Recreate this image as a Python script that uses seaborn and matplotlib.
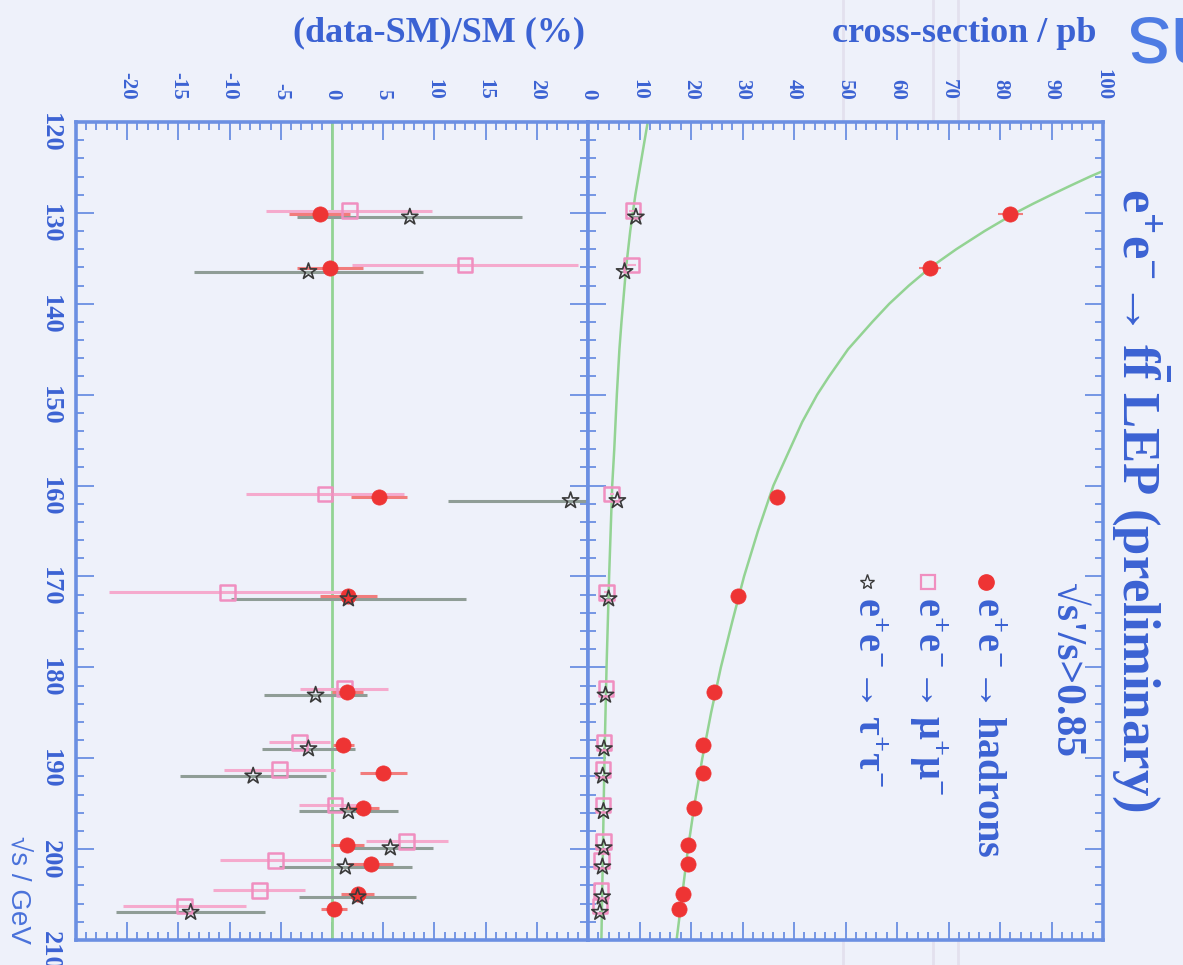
import numpy as np
import pandas as pd
import matplotlib
matplotlib.use("Agg")
import matplotlib.pyplot as plt
import seaborn as sns
from matplotlib.ticker import MultipleLocator, FixedLocator, FuncFormatter
from matplotlib.lines import Line2D

# ---- LEP2 energy points (GeV) ----
energy = [130.1, 136.1, 161.3, 172.1, 182.7, 188.6, 191.6, 195.5, 199.5, 201.6, 204.9, 206.6]

# ---- measured cross-sections (pb) ----
sig_had = [82.0, 66.4, 36.7, 29.1, 24.5, 22.3, 22.3, 20.6, 19.5, 19.4, 18.4, 17.6]
sig_had_err = [2.4, 2.1, 1.0, 0.8, 0.35, 0.2, 0.4, 0.3, 0.3, 0.4, 0.4, 0.3]
sig_mumu = [8.7, 8.4, 4.6, 3.6, 3.5, 3.1, 2.95, 2.95, 3.05, 2.65, 2.55, 2.3]
sig_mumu_err = [0.7, 0.9, 0.4, 0.45, 0.18, 0.1, 0.16, 0.12, 0.15, 0.14, 0.12, 0.14]
sig_tautau = [9.3, 7.1, 5.7, 4.0, 3.4, 3.1, 2.85, 3.0, 3.05, 2.8, 2.75, 2.3]
sig_tautau_err = [1.0, 0.8, 0.6, 0.45, 0.18, 0.14, 0.2, 0.15, 0.13, 0.18, 0.16, 0.17]

# ---- relative deviation from SM (%) ----
dev_had = [-1.2, -0.2, 4.6, 1.6, 1.5, 1.1, 5.0, 3.0, 1.5, 3.8, 2.5, 0.2]
dev_had_err = [3.0, 3.2, 2.7, 2.8, 1.5, 1.0, 2.3, 1.6, 1.6, 2.2, 1.6, 1.3]
dev_mumu = [1.7, 13.0, -0.7, -10.2, 1.2, -3.2, -5.1, 0.3, 7.3, -5.5, -7.1, -14.4]
dev_mumu_err = [8.1, 11.0, 7.7, 11.6, 4.3, 3.0, 5.4, 3.5, 4.0, 5.4, 4.5, 6.0]
dev_tautau = [7.6, -2.3, 23.3, 1.6, -1.6, -2.3, -7.7, 1.6, 5.7, 1.3, 2.5, -13.8]
dev_tautau_err = [11.0, 11.2, 12.0, 11.5, 5.0, 4.5, 7.1, 4.8, 4.2, 6.5, 5.7, 7.3]

# ---- Standard Model predictions (pb) ----
sm_energy = [120, 122, 124, 125, 126, 127, 128, 129, 130, 131, 132, 134, 136, 138, 140,
             142, 145, 148, 150, 153, 156, 160, 165, 170, 175, 180, 185, 190, 195,
             200, 205, 210]
sm_had = [125.0, 115.0, 106.0, 101.6, 97.5, 93.7, 90.0, 86.4, 83.0, 80.0, 77.0, 71.5,
          66.5, 62.3, 58.5, 55.2, 50.5, 46.8, 44.5, 41.6, 39.2, 36.0, 33.0, 30.3, 28.0,
          25.8, 23.9, 22.2, 20.7, 19.4, 18.3, 17.2]
sm_ll = [11.6, 11.0, 10.4, 10.1, 9.8, 9.5, 9.2, 8.95, 8.7, 8.45, 8.2, 7.8, 7.4, 7.1,
         6.8, 6.5, 6.1, 5.8, 5.6, 5.35, 5.1, 4.7, 4.4, 4.1, 3.85, 3.6, 3.4, 3.2, 3.05,
         2.9, 2.75, 2.6]

xs_ticks = list(range(0, 101, 10))
dev_ticks = list(range(-25, 26, 5))
e_ticks = list(range(120, 211, 10))

# small energy shifts so the three channels do not sit on top of each other
SHIFT_MUMU, SHIFT_TAU = -0.35, 0.35

BG = "#eef1fa"
TXT = "#3b62d3"
AXC = "#6b8fe2"
RED = "#ee3434"
PINK = "#f08fc0"
PINK_BAR = "#f5aacd"
STAR = "#3a3a3a"
TAU_BAR = "#8f9d96"
GREEN = "#93d393"

sns.set_theme(style="white")
plt.rcParams["font.family"] = ["Liberation Serif", "DejaVu Serif"]
plt.rcParams["font.weight"] = "bold"
plt.rcParams["mathtext.fontset"] = "custom"
plt.rcParams["mathtext.rm"] = "Liberation Serif:bold"
plt.rcParams["mathtext.it"] = "Liberation Serif:bold"
plt.rcParams["mathtext.bf"] = "Liberation Serif:bold"

W, H = 1183, 965
fig = plt.figure(figsize=(W / 100, H / 100), dpi=100, facecolor=BG)


def rect(x0, x1, y0, y1):
    return [x0 / W, 1 - y1 / H, (x1 - x0) / W, (y1 - y0) / H]


# faint vertical streaks across the sheet
for xp in (843, 933, 958):
    fig.add_artist(Line2D([xp / W, xp / W], [0, 1], color="#e3e1ee", lw=2, zorder=0))

ax_dev = fig.add_axes(rect(76, 588, 122, 940))
ax_xs = fig.add_axes(rect(588, 1103, 122, 940))

E = np.array(energy)

# ---------- deviation panel ----------
ax_dev.axvline(0, color=GREEN, lw=2, zorder=1)
ax_dev.errorbar(dev_mumu, E + SHIFT_MUMU, xerr=dev_mumu_err, fmt="none",
                ecolor=PINK_BAR, elinewidth=2.2, capsize=0, zorder=2)
ax_dev.errorbar(dev_tautau, E + SHIFT_TAU, xerr=dev_tautau_err, fmt="none",
                ecolor=TAU_BAR, elinewidth=2.2, capsize=0, zorder=2)
ax_dev.errorbar(dev_had, E, xerr=dev_had_err, fmt="none",
                ecolor="#f17c7c", elinewidth=2.2, capsize=0, zorder=3)
sns.scatterplot(x=dev_mumu, y=E + SHIFT_MUMU, ax=ax_dev, marker="s", s=110,
                facecolor="none", edgecolor=PINK, linewidth=1.8, zorder=4)
sns.scatterplot(x=dev_had, y=E, ax=ax_dev, marker="o", s=120,
                color=RED, edgecolor=RED, linewidth=0.5, zorder=5)
sns.scatterplot(x=dev_tautau, y=E + SHIFT_TAU, ax=ax_dev, marker="*", s=150,
                facecolor="none", edgecolor=STAR, linewidth=1.2, zorder=6)

# ---------- cross-section panel ----------
sns.lineplot(x=sm_had, y=sm_energy, ax=ax_xs, sort=False, estimator=None,
             color=GREEN, lw=1.8, zorder=1)
sns.lineplot(x=sm_ll, y=sm_energy, ax=ax_xs, sort=False, estimator=None,
             color=GREEN, lw=1.8, zorder=1)
ax_xs.errorbar(sig_had, E, xerr=sig_had_err, fmt="none", ecolor="#f17c7c",
               elinewidth=1.5, capsize=0, zorder=2)
ax_xs.errorbar(sig_mumu, E + SHIFT_MUMU, xerr=sig_mumu_err, fmt="none",
               ecolor=PINK_BAR, elinewidth=1.5, capsize=0, zorder=2)
ax_xs.errorbar(sig_tautau, E + SHIFT_TAU, xerr=sig_tautau_err, fmt="none",
               ecolor=TAU_BAR, elinewidth=1.5, capsize=0, zorder=2)
sns.scatterplot(x=sig_mumu, y=E + SHIFT_MUMU, ax=ax_xs, marker="s", s=110,
                facecolor="none", edgecolor=PINK, linewidth=1.8, zorder=4)
sns.scatterplot(x=sig_had, y=E, ax=ax_xs, marker="o", s=120,
                color=RED, edgecolor=RED, linewidth=0.5, zorder=5)
sns.scatterplot(x=sig_tautau, y=E + SHIFT_TAU, ax=ax_xs, marker="*", s=150,
                facecolor="none", edgecolor=STAR, linewidth=1.2, zorder=6)

# ---------- axes styling ----------
ax_dev.set_xlim(-25, 25)
ax_xs.set_xlim(0, 100)
for ax in (ax_dev, ax_xs):
    ax.set_ylim(210, 120)
    ax.set_facecolor(BG)
    ax.set_xlabel("")
    ax.set_ylabel("")
    for sp in ax.spines.values():
        sp.set_color(AXC)
        sp.set_linewidth(2.6)
    ax.yaxis.set_major_locator(FixedLocator(e_ticks))
    ax.yaxis.set_minor_locator(MultipleLocator(2))
    ax.tick_params(which="both", direction="in", top=True, bottom=True,
                   left=True, right=True, labeltop=True, labelbottom=False,
                   color=AXC, width=1.3, labelcolor=TXT)
    ax.tick_params(which="major", length=13)
    ax.tick_params(which="minor", length=6)
    ax.tick_params(axis="x", labelrotation=-90, labelsize=15, pad=16)

ax_dev.xaxis.set_major_locator(FixedLocator(dev_ticks))
ax_dev.xaxis.set_minor_locator(MultipleLocator(1))
ax_dev.xaxis.set_major_formatter(FuncFormatter(lambda v, p: "" if abs(v) > 22 else f"{v:g}"))
ax_dev.tick_params(axis="y", labelrotation=-90, labelsize=19, pad=10, labelleft=True)

ax_xs.xaxis.set_major_locator(FixedLocator(xs_ticks))
ax_xs.xaxis.set_minor_locator(MultipleLocator(2))
ax_xs.tick_params(axis="y", labelleft=False)

# ---------- axis titles ----------
fig.text(585 / W, 1 - 33 / H, "(data-SM)/SM (%)", ha="right", va="center",
         fontsize=26, color=TXT)
fig.text(1096 / W, 1 - 33 / H, "cross-section / pb", ha="right", va="center",
         fontsize=26, color=TXT)
fig.text(17 / W, 1 - 890 / H, "\u221as / GeV", ha="center", va="center",
         rotation=-90, fontsize=20, color="#4a72da",
         family=["Liberation Sans", "DejaVu Sans"], fontweight="normal")

# ---------- title ----------
fig.text(1140 / W, 1 - 500 / H,
         r"$\mathrm{e^{+}e^{-}\!\rightarrow f\bar{f}}$ LEP (preliminary)",
         ha="center", va="center", rotation=-90, fontsize=38, color=TXT)

# ---------- key ----------
fig.text(1066 / W, 1 - 583 / H, "\u221as'/s>0.85", ha="center", va="top",
         rotation=-90, fontsize=30, color=TXT)

key_entries = [
    (986, r"$\mathrm{e^{+}e^{-}\!\rightarrow hadrons}$", "o"),
    (928, r"$\mathrm{e^{+}e^{-}\!\rightarrow\mu^{+}\mu^{-}}$", "s"),
    (867, r"$\mathrm{e^{+}e^{-}\!\rightarrow\tau^{+}\tau^{-}}$", "*"),
]
for xp, label, mk in key_entries:
    fx, fy = xp / W, 1 - 582 / H
    if mk == "o":
        fig.add_artist(Line2D([fx], [fy], marker="o", ms=11, mfc=RED, mec=RED, ls=""))
    elif mk == "s":
        fig.add_artist(Line2D([fx], [fy], marker="s", ms=10, mfc="none", mec=PINK,
                              mew=1.6, ls=""))
    else:
        fig.add_artist(Line2D([fx], [fy], marker="*", ms=11, mfc="none", mec=STAR,
                              mew=1.0, ls=""))
    fig.text(fx, 1 - 597 / H, label, ha="center", va="top", rotation=-90,
             fontsize=29, color=TXT)

# corner lettering
fig.text(1162 / W, 1 - 38 / H, "ns", ha="center", va="center", rotation=180,
         fontsize=62, color="#4d7be3", family=["Liberation Sans", "DejaVu Sans"],
         fontweight="normal")

fig.savefig("out.png", dpi=100, facecolor=BG)
